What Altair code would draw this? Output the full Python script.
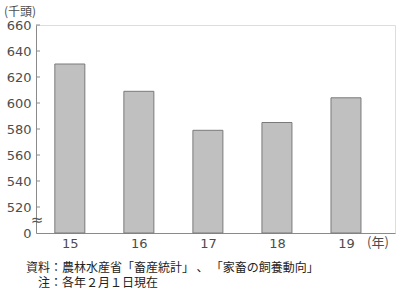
import altair as alt
import pandas as pd

# Head counts (thousand head) by year
years = [15, 16, 17, 18, 19]
values = [630, 609, 579, 585, 604]

# Y axis ticks; the bottom tick stands for 0 across the axis break
y_ticks = [500, 520, 540, 560, 580, 600, 620, 640, 660]
inner_ticks = [520, 540, 560, 580, 600, 620, 640, 660]

# Thin spaces keep the adjacent brackets from being squeezed together
source_note = "資料：農林水産省「畜産統計」\u2009、\u2009「家畜の飼養動向」"
date_note = "注：各年２月１日現在"
y_unit = "(千頭)"
x_unit = "(年)"

df = pd.DataFrame({"year": years, "value": values})
ticks_df = pd.DataFrame({"t": inner_ticks})

num_font = "DejaVu Sans"
jp_font = "Noto Sans CJK JP"
label_color = "#4d4d4d"
axis_color = "#8a8a8a"

x_scale = alt.Scale(domain=[14.51, 19.71], nice=False, zero=False, padding=0)
y_scale = alt.Scale(domain=[500, 660], nice=False, zero=False)

y_axis = alt.Axis(
    values=y_ticks,
    labelExpr="datum.value == 500 ? '0' : datum.label",
    tickSize=0,
    labelPadding=5,
    labelFont=num_font,
    labelFontSize=13,
    labelColor=label_color,
    domainColor=axis_color,
    grid=False,
    title=None,
)

bars = alt.Chart(df).mark_bar(
    size=30, color="#c0c0c0", stroke="#7a7a7a", strokeWidth=1
).encode(
    x=alt.X(
        "year:Q",
        scale=x_scale,
        title=None,
        axis=alt.Axis(
            values=years,
            format="d",
            tickSize=0,
            labelPadding=4,
            labelFont=num_font,
            labelFontSize=13,
            labelColor=label_color,
            domainColor=axis_color,
            grid=False,
        ),
    ),
    y=alt.Y("value:Q", scale=y_scale, title=None, axis=y_axis),
    y2=alt.datum(500),
)

# Short tick marks pointing into the plot
inner = alt.Chart(ticks_df).mark_rule(color=axis_color, strokeWidth=1).encode(
    y=alt.Y("t:Q", scale=y_scale, title=None, axis=y_axis),
    x=alt.value(0),
    x2=alt.value(4),
)

# Break symbol on the y axis
brk = alt.Chart(pd.DataFrame({"s": ["≈"]})).mark_text(
    font=num_font, fontSize=15, color="#555555", align="center", baseline="middle"
).encode(
    text="s:N",
    x=alt.value(1),
    y=alt.datum(510, scale=y_scale, axis=y_axis),
)

def note(txt, x, y, align="left", size=12, font=jp_font, color="#222222"):
    return alt.Chart(pd.DataFrame({"s": [txt]})).mark_text(
        font=font, fontSize=size, color=color, align=align, baseline="middle"
    ).encode(text="s:N", x=alt.value(x), y=alt.value(y))

chart = alt.layer(
    bars,
    inner,
    brk,
    note(y_unit, -32, -13, size=12, color=label_color),
    note(x_unit, 331, 218, size=13, color=label_color),
    note(source_note, -10, 243),
    note(date_note, 2, 258),
).properties(
    width=359,
    height=208,
    autosize=alt.AutoSizeParams(type="none"),
    padding={"left": 36, "top": 25, "right": 5, "bottom": 59},
).configure_view(stroke=None).configure(background="white")

chart.save("out.html", embed_options={"renderer": "svg", "actions": False})
